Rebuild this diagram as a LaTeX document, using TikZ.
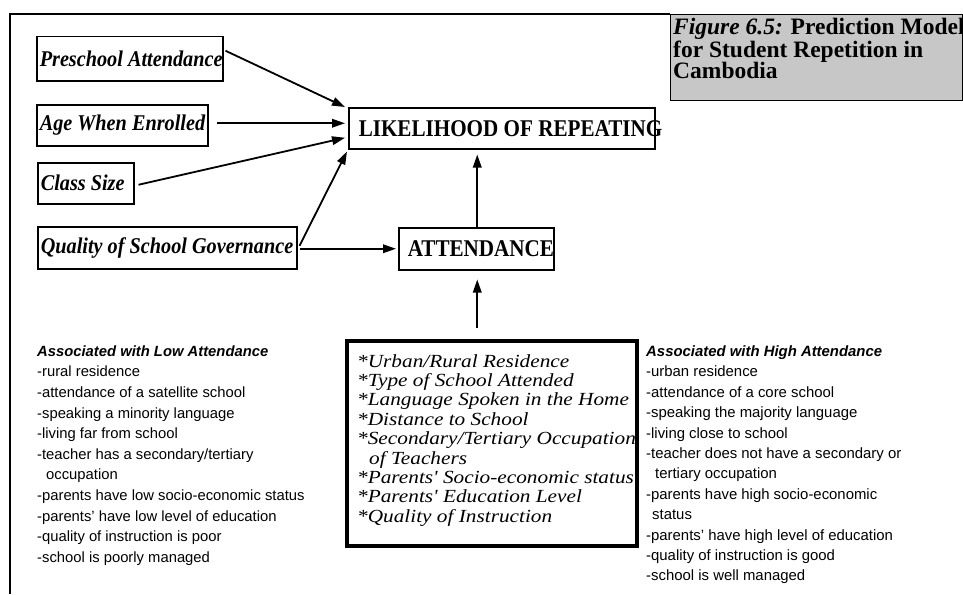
\documentclass[tikz,border=0pt]{standalone}
\usepackage{fontspec}
\setmainfont{Liberation Serif}
\setsansfont{Liberation Sans}
\newfontfamily\boxserif[FakeStretch=0.9]{Liberation Serif}
\newfontfamily\outserif[FakeStretch=0.88]{Liberation Serif}
\newfontfamily\wideserif[FakeStretch=1.15]{Liberation Serif}
\usetikzlibrary{arrows.meta,calc}

\begin{document}
\begin{tikzpicture}[x=1pt,y=-1pt,
  frameline/.style={line width=1.3pt},
  factorbox/.style={draw, line width=1.5pt, anchor=north west, inner xsep=3pt, inner ysep=0pt, font=\boxserif\bfseries\itshape\fontsize{22.5}{24}\selectfont},
  outbox/.style={draw, line width=1.5pt, anchor=north west, inner xsep=3pt, inner ysep=0pt, font=\outserif\bfseries\fontsize{24}{26}\selectfont},
  conn/.style={line width=1.8pt, -{Triangle[length=13pt,width=8.5pt]}},
  listtext/.style={anchor=north west, inner sep=0pt, align=left, font=\sffamily\fontsize{14.8}{20.6}\selectfont},
]
\useasboundingbox (0,0) rectangle (963,594);

% title box
\node[draw, line width=1.3pt, fill=black!22, anchor=north west, minimum width=292pt, minimum height=86pt, inner sep=0pt] (title) at (670,14) {};
\node[anchor=north west, inner sep=0pt, align=left, font=\bfseries\fontsize{23.5}{21.5}\selectfont] (titletxt) at (673,18) {\textit{Figure 6.5:} Prediction Model\\ for Student Repetition in\\ Cambodia};

% frame
\draw[frameline] (10,594) -- (10,14) -- (title.north west);

% factor boxes
\node[factorbox, minimum width=186pt, minimum height=44pt] (pre) at (36,36) {\makebox[180pt][l]{Preschool Attendance}};
\node[factorbox, minimum width=171pt, minimum height=41pt] (age) at (36,104) {\makebox[165pt][l]{Age When Enrolled}};
\node[factorbox, minimum width=96pt, minimum height=41pt] (class) at (37,162) {\makebox[90pt][l]{Class Size}};
\node[factorbox, minimum width=259pt, minimum height=42pt] (gov) at (37,226) {\makebox[253pt][l]{Quality of School Governance}};

% outcome boxes
\node[outbox, minimum width=306pt, minimum height=41pt] (lik) at (348,107) {\makebox[300pt][l]{\hspace*{7pt}LIKELIHOOD OF REPEATING}};
\node[outbox, minimum width=155pt, minimum height=42pt] (att) at (398,227) {\makebox[149pt][l]{\hspace*{6pt}ATTENDANCE}};

% attendance factors box
\node[draw, line width=3.5pt, anchor=north west, minimum width=290pt, minimum height=205pt, inner sep=0pt] (fac) at (345,339) {};
\node[anchor=north west, inner sep=0pt, align=left, font=\wideserif\itshape\fontsize{18.5}{19.4}\selectfont] (factxt) at (357,354) {*Urban/Rural Residence\\ *Type of School Attended\\ *Language Spoken in the Home\\ *Distance to School\\ *Secondary/Tertiary Occupation\\ \hspace*{12pt}of Teachers\\ *Parents' Socio-economic status\\ *Parents' Education Level\\ *Quality of Instruction};

% lists
\node[listtext] (low) at (37,345.4) {\textbf{\textit{Associated with Low Attendance}}\\ -rural residence\\ -attendance of a satellite school\\ -speaking a minority language\\ -living far from school\\ -teacher has a secondary/tertiary\\ \hspace*{9pt}occupation\\ -parents have low socio-economic status\\ -parents' have low level of education\\ -quality of instruction is poor\\ -school is poorly managed};
\node[listtext, font=\sffamily\fontsize{14.9}{20.4}\selectfont] (high) at (646,345.4) {\textbf{\textit{Associated with High Attendance}}\\ -urban residence\\ -attendance of a core school\\ -speaking the majority language\\ -living close to school\\ -teacher does not have a secondary or\\ \hspace*{9pt}tertiary occupation\\ -parents have high socio-economic\\ \hspace*{6pt}status\\ -parents' have high level of education\\ -quality of instruction is good\\ -school is well managed};

% connectors
\draw[conn] ($(pre.east)+(2,-8)$) -- ($(lik.north west)+(-3,0)$);
\draw[conn] ($(age.east)+(8,-2)$) -- ($(lik.west)+(-3,-5)$);
\draw[conn] ($(class.east)+(4,1.5)$) -- ($(lik.west)+(-3,9.5)$);
\draw[conn] ($(gov.east)+(2,-2)$) -- ($(lik.south west)+(-1,2)$);
\draw[conn] ($(gov.east)+(2,1)$) -- ($(att.west)+(-2,0)$);
\draw[conn] ($(att.north)+(1,0)$) -- ($(att.north |- lik.south)+(1,5)$);
\draw[conn] ($(att.south |- fac.north)+(1,-11)$) -- ($(att.south)+(1,9)$);
\end{tikzpicture}
\end{document}
